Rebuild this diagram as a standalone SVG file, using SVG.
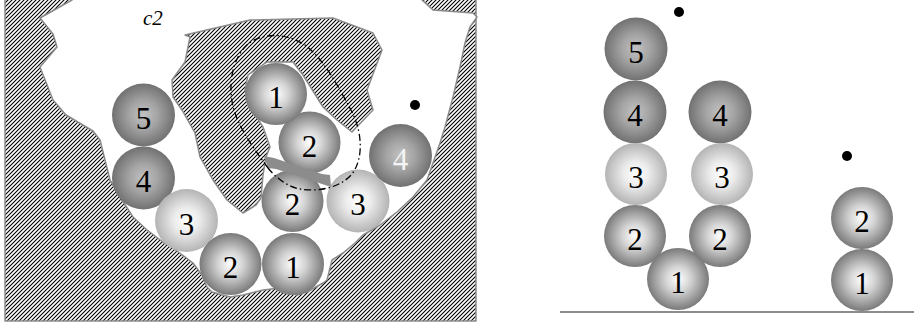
<svg xmlns="http://www.w3.org/2000/svg" width="914" height="323" viewBox="0 0 914 323">
<defs>
<pattern id="hatch" patternUnits="userSpaceOnUse" width="4" height="4">
<path d="M-1,1 L1,-1 M0,4 L4,0 M3,5 L5,3" stroke="#000" stroke-width="1.1"/>
</pattern>
<radialGradient id="gDark" cx="0.5" cy="0.5" r="0.5">
<stop offset="0" stop-color="#c2c2c2"/>
<stop offset="0.45" stop-color="#a4a4a4"/>
<stop offset="1" stop-color="#717171"/>
</radialGradient>
<radialGradient id="gMid" cx="0.5" cy="0.5" r="0.5">
<stop offset="0" stop-color="#ffffff"/>
<stop offset="0.4" stop-color="#d4d4d4"/>
<stop offset="1" stop-color="#7a7a7a"/>
</radialGradient>
<radialGradient id="gLight" cx="0.5" cy="0.5" r="0.5">
<stop offset="0" stop-color="#ffffff"/>
<stop offset="0.4" stop-color="#ececec"/>
<stop offset="1" stop-color="#b4b4b4"/>
</radialGradient>
</defs>
<style>
.wall{fill:url(#hatch);stroke:#8a8a8a;stroke-width:1.5;stroke-linejoin:round}
.free{fill:#fff;stroke:#8a8a8a;stroke-width:1.5;stroke-linejoin:round}
.dk{fill:url(#gDark)}
.md{fill:url(#gMid)}
.lt{fill:url(#gLight)}
.n{font-size:31px;text-anchor:middle;fill:#000}
.nw{fill:#f4f4f4}
.dot{fill:#000}
</style>
<rect width="914" height="323" fill="#fff"/>

<g id="workspace">
<rect x="5" y="-2" width="471" height="323" class="wall" stroke-width="2"/>
<path class="free" d="M72,-2 L72,0 L40,18 L53,34 L57,47 L40,67 L53,100 L66,115 L93,131 L100,140 L105,160 L110,180 L120,197 L133,217 L147,230 L163,242 L173,248 L193,263 L202,275 L207,287 L212,292 L230,297 L243,295 L263,290 L280,288 L297,295 L307,292 L323,283 L327,280 L332,260 L343,253 L355,243 L363,235 L380,225 L397,212 L413,197 L427,180 L433,163 L440,143 L445,127 L453,97 L460,67 L465,43 L470,27 L477,17 L473,13 L433,10 L422,0 L422,-2 Z"/>
<path class="wall" d="M185,35 L250,20 L333,18 L373,33 L382,50 L367,90 L373,110 L352,132 L337,120 L323,107 L303,75 L293,62 L267,62 L248,75 L245,90 L252,110 L263,127 L270,147 L266,157 L263,175 L261,198 L256,205 L243,213 L227,200 L213,180 L200,157 L195,133 L182,110 L173,97 L172,80 L185,62 L190,37 Z"/>
<text x="143" y="25" font-family="'Liberation Serif','DejaVu Serif',serif" font-style="italic" font-size="21">c2</text>
</g>

<g id="left-balls" font-family="'Liberation Serif','DejaVu Serif',serif">
<g id="L5"><circle cx="143.5" cy="115" r="31.5" class="dk"/><text class="n" x="143.5" y="129">5</text></g>
<g id="L4"><circle cx="143.5" cy="178" r="31.5" class="dk"/><text class="n" x="143.5" y="192">4</text></g>
<g id="L3"><circle cx="186.5" cy="220.5" r="31.5" class="lt"/><text class="n" x="186.5" y="234.5">3</text></g>
<g id="L2a"><circle cx="230.5" cy="264" r="31" class="md"/><text class="n" x="230.5" y="278">2</text></g>
<g id="L1a"><circle cx="293" cy="264" r="31" class="md"/><text class="n" x="293" y="278">1</text></g>
<g id="L2b"><circle cx="292.5" cy="201" r="31" class="md"/><text class="n" x="292.5" y="215">2</text></g>
<g id="L3b"><circle cx="358" cy="201" r="31.5" class="lt"/><text class="n" x="358" y="215">3</text></g>
<g id="L4b"><circle cx="400.5" cy="155.5" r="31.5" class="dk"/><text class="n nw" x="400.5" y="169.5">4</text></g>
<g id="L2c"><circle cx="309.5" cy="142.5" r="31" class="md"/><text class="n" x="309.5" y="156.5">2</text></g>
<g id="L1c"><circle cx="276" cy="94" r="31" class="md"/><text class="n" x="276" y="108">1</text></g>
<circle id="Ldot" cx="415" cy="105" r="5" class="dot"/>
</g>

<g id="overlay">
<path d="M264,156 L274,158 L322,174 L330,175 L331,187 L322,184 L276,169 L268,168 Z" fill="#8c8c8c"/>
<path d="M268,168 C255,150 240,130 234,110 C228,90 230,60 248,44 C262,33 285,32 305,45 C325,60 340,90 352,112 C362,132 364,158 352,174 C340,188 318,192 300,189 C288,187 276,178 268,168 Z" fill="none" stroke="#000" stroke-width="1.3" stroke-dasharray="7 3 1.5 3"/>
</g>

<g id="right-balls" font-family="'Liberation Serif','DejaVu Serif',serif">
<g id="R5"><circle cx="636" cy="49" r="31.5" class="dk"/><text class="n" x="636" y="63">5</text></g>
<g id="R4a"><circle cx="635" cy="112" r="31.5" class="dk"/><text class="n" x="635" y="126">4</text></g>
<g id="R3a"><circle cx="636" cy="174" r="31" class="lt"/><text class="n" x="636" y="188">3</text></g>
<g id="R2a"><circle cx="635" cy="236" r="31" class="md"/><text class="n" x="635" y="250">2</text></g>
<g id="R1a"><circle cx="678" cy="279" r="31" class="md"/><text class="n" x="678" y="293">1</text></g>
<g id="R4b"><circle cx="720" cy="112" r="31.5" class="dk"/><text class="n" x="720" y="126">4</text></g>
<g id="R3b"><circle cx="722" cy="174" r="31" class="lt"/><text class="n" x="722" y="188">3</text></g>
<g id="R2b"><circle cx="720" cy="236" r="31" class="md"/><text class="n" x="720" y="250">2</text></g>
<g id="R2c"><circle cx="862" cy="218" r="31" class="md"/><text class="n" x="862" y="232">2</text></g>
<g id="R1c"><circle cx="862" cy="280" r="31" class="md"/><text class="n" x="862" y="294">1</text></g>
<circle id="Rdot1" cx="679" cy="12" r="5" class="dot"/>
<circle id="Rdot2" cx="847" cy="156" r="5" class="dot"/>
<line id="ground" x1="560" y1="312" x2="914" y2="312" stroke="#8c8c8c" stroke-width="2"/>
</g>
</svg>
